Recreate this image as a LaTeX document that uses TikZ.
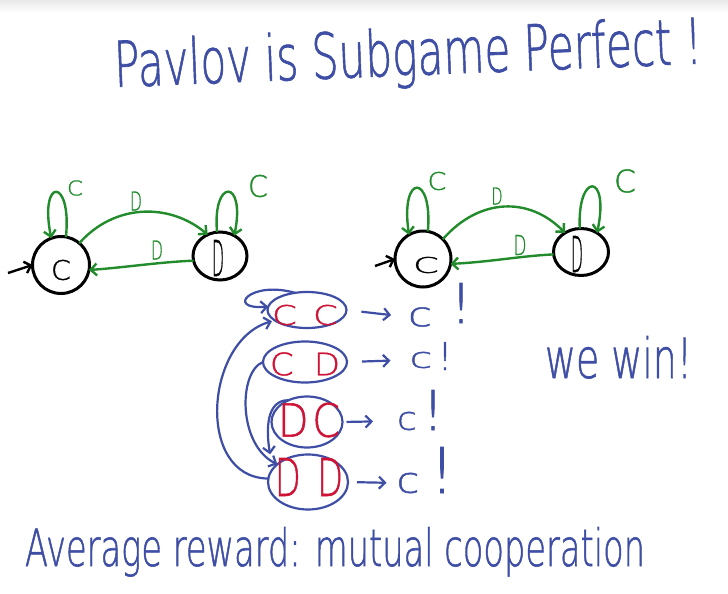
\documentclass[tikz,border=0pt]{standalone}
\usepackage{fontspec}
\setmainfont{DejaVu Sans ExtraLight}[FakeBold=1.2]
\usetikzlibrary{arrows.meta,shapes.geometric}
\definecolor{ink}{RGB}{62,78,165}
\definecolor{grn}{RGB}{34,140,44}
\definecolor{rd}{RGB}{205,20,55}
\newcommand{\hw}[3]{\resizebox{#1}{#2}{#3}}
\begin{document}
\begin{tikzpicture}[x=1pt,y=-1pt,
  every node/.style={inner sep=0pt, outer sep=0pt},
  txt/.style={anchor=base west},
  stateC/.style={draw=black, line width=3pt, circle, minimum size=#1},
  stateD/.style={draw=black, line width=3pt, ellipse},
  kedge/.style={draw=black, line width=2.4pt, -{Straight Barb[length=6pt,width=12pt]}},
  gedge/.style={draw=grn, line width=2.4pt, -{Straight Barb[length=6pt,width=12pt]}},
  glabel/.style={text=grn},
  bedge/.style={draw=ink, line width=2.2pt, -{Straight Barb[length=6pt,width=12pt]}},
  oval/.style={draw=ink, line width=2.2pt, ellipse},
  redtxt/.style={text=rd},
  bluetxt/.style={text=ink}
  ]
\useasboundingbox (0,0) rectangle (728,594);
\fill[white] (0,0) rectangle (728,594);
\shade[top color=gray!18, bottom color=white] (0,0) rectangle (728,12);

% title
\node[txt, bluetxt, rotate=2.3] (title) at (115,87) {\hw{588pt}{48pt}{Pavlov is Subgame Perfect !}};

% ---------- left machine ----------
\node[stateC=57pt] (c1) at (61,265) {};
\node (c1t) at (61,270) {\hw{20pt}{20pt}{C}};
\node[stateD, minimum width=54pt, minimum height=48pt] (d1) at (220,256) {};
\node (d1t) at (218,258) {\hw{12pt}{36pt}{D}};
\coordinate (s1) at (8,273);
\draw[kedge] (s1) -- (c1.west);
\draw[gedge] (c1.80) .. controls (72,177) and (39,177) .. (c1.110);
\node[glabel] (lc1) at (75,188) {\hw{16pt}{15pt}{C}};
\draw[gedge] (c1.50) .. controls (115,203) and (170,203) .. (d1.120);
\node[glabel] (ld1a) at (136,201) {\hw{12pt}{19pt}{D}};
\draw[gedge] (d1.190) .. controls (160,262) and (120,268) .. (c1.-10);
\node[glabel] (ld1b) at (157,250) {\hw{12pt}{19pt}{D}};
\draw[gedge] (d1.97) .. controls (212,178) and (246,178) .. (d1.55);
\node[glabel] (lc1b) at (258,186) {\hw{20pt}{22pt}{C}};

% ---------- right machine ----------
\node[stateC=56pt] (c2) at (423,259) {};
\node (c2t) at (426,265) {\hw{26pt}{16pt}{C}};
\node[stateD, minimum width=55pt, minimum height=47pt] (d2) at (581,252) {};
\node (d2t) at (577,254) {\hw{12pt}{36pt}{D}};
\coordinate (s2) at (375,266);
\draw[kedge] (s2) -- (c2.west);
\draw[gedge] (c2.80) .. controls (433,173) and (400,173) .. (c2.120);
\node[glabel] (lc2) at (437,181) {\hw{19pt}{18pt}{C}};
\draw[gedge] (c2.45) .. controls (480,197) and (530,197) .. (d2.130);
\node[glabel] (ld2a) at (497,196) {\hw{11pt}{17pt}{D}};
\draw[gedge] (d2.185) .. controls (520,256) and (490,262) .. (c2.-10);
\node[glabel] (ld2b) at (520,245) {\hw{13pt}{20pt}{D}};
\draw[gedge] (d2.93) .. controls (577,172) and (610,172) .. (d2.50);
\node[glabel] (lc2b) at (625,181) {\hw{22pt}{23pt}{C}};

% ---------- joint states ----------
\node[oval, minimum width=79pt, minimum height=36pt] (cc) at (307,310) {};
\node[redtxt] (tcc) at (305,315) {\hw{66pt}{20pt}{C\hspace{0.45em}C}};
\node[oval, minimum width=84pt, minimum height=41pt] (cd) at (305,362) {};
\node[redtxt] (tcd) at (305,364) {\hw{70pt}{23pt}{C\hspace{0.6em}D}};
\node[oval, minimum width=71pt, minimum height=51pt] (dc) at (307,422) {};
\node[redtxt] (tdc) at (309,420) {\hw{62pt}{34pt}{D\hspace{0.1em}C}};
\node[oval, minimum width=80pt, minimum height=55pt] (dd) at (308,482) {};
\node[redtxt] (tdd) at (309,477) {\hw{68pt}{38pt}{D\hspace{0.5em}D}};

% transitions between joint states
\draw[bedge] (cc.125) .. controls (250,280) and (225,310) .. (cc.175);
\draw[bedge, shorten >=3pt] (dd.175) .. controls (195,478) and (205,340) .. (cc.198);
\draw[bedge] (cd.180) .. controls (238,372) and (238,445) .. (dd.150);
\draw[bedge, shorten >=15pt] (dc.130) .. controls (266,400) and (266,430) .. (dd.160);

% responses
\node[bluetxt] (rc1) at (420,317) {\hw{24pt}{19pt}{c}};
\node[bluetxt] (rx1) at (461,303) {\hw{!}{40pt}{!}};
\draw[bedge, shorten <=15pt, shorten >=17pt] (cc.east) -- (rc1.west);
\node[bluetxt] (rc2) at (421,360) {\hw{23pt}{16pt}{c}};
\node[bluetxt] (rx2) at (445,356) {\hw{!}{28pt}{!}};
\draw[bedge, shorten <=15pt, shorten >=19pt] (cd.east) -- (rc2.west);
\node[bluetxt] (rc3) at (407,421) {\hw{20pt}{18pt}{c}};
\node[bluetxt] (rx3) at (433,410) {\hw{!}{40pt}{!}};
\draw[bedge, shorten <=4pt, shorten >=24pt] (dc.east) -- (rc3.west);
\node[bluetxt] (rc4) at (408,483) {\hw{23pt}{20pt}{c}};
\node[bluetxt] (rx4) at (442,470) {\hw{!}{46pt}{!}};
\draw[bedge, shorten <=9pt, shorten >=10pt] (dd.east) -- (rc4.west);

% side remark and conclusion
\node[txt, bluetxt] (win) at (545,378) {\hw{147pt}{42pt}{we win!}};
\node[txt, bluetxt] (avg) at (25,566) {\hw{620pt}{39pt}{Average reward: mutual cooperation}};
\end{tikzpicture}
\end{document}
